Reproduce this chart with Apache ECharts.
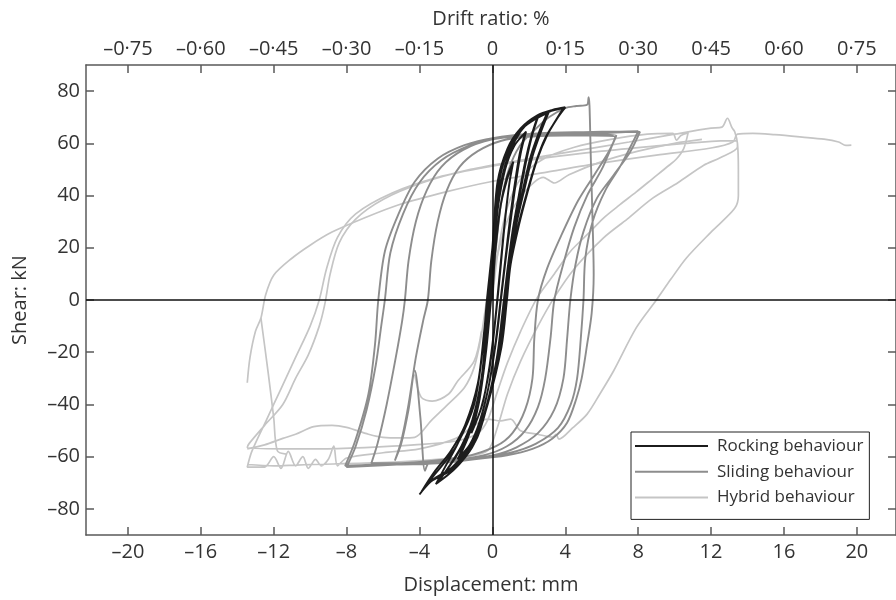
<!DOCTYPE html>
<html>
<head>
<meta charset="utf-8">
<script src="https://cdn.jsdelivr.net/npm/echarts@6/dist/echarts.min.js"></script>
<style>html,body{margin:0;padding:0;background:#fff}#c{width:896px;height:600px}</style>
</head>
<body>
<div id="c"></div>
<script>
// ---- ticks ----
const xTicks = [-20,-16,-12,-8,-4,0,4,8,12,16,20];
const xTickLabels = ['–20','–16','–12','–8','–4','0','4','8','12','16','20'];
const driftLabels = ['–0·75','–0·60','–0·45','–0·30','–0·15','0','0·15','0·30','0·45','0·60','0·75'];
const yTicks = [-80,-60,-40,-20,0,20,40,60,80];
const yTickLabels = ['–80','–60','–40','–20','0','20','40','60','80'];
const seriesNames = ['Rocking behaviour','Sliding behaviour','Hybrid behaviour'];

// ---- data: [displacement mm, shear kN] ----
const rockingPath = [
[0,0],[0.15,18],[0.45,36],[0.8,46],[1.1,52],
[0.9,43],[0.65,28],[0.4,10],[0.15,-8],[-0.15,-25],[-0.55,-40],[-1.1,-50],
[-0.7,-38],[-0.35,-20],[-0.1,-2],[0.15,18],[0.45,36],[0.8,47],[1.15,53],
[0.92,44],[0.66,28],[0.42,10],[0.16,-8],[-0.15,-26],[-0.6,-41],[-1.15,-51],
[-0.8,-40],[-0.45,-24],[-0.2,-5],[0.05,15],[0.3,35],[0.7,50],[1.2,59],[1.8,64],
[1.5,56],[1.2,43],[0.95,30],[0.7,15],[0.45,0],[0.2,-15],[-0.2,-33],[-0.7,-47],[-1.2,-55],[-1.8,-60],
[-1.3,-52],[-0.8,-40],[-0.45,-24],[-0.2,-5],[0.05,15],[0.3,35],[0.7,50],[1.2,59],[1.85,64.5],
[1.55,56],[1.25,43],[1.0,30],[0.72,15],[0.47,0],[0.22,-15],[-0.2,-33],[-0.72,-47],[-1.25,-55.5],[-1.9,-61],
[-1.3,-51],[-0.8,-40],[-0.45,-22],[-0.2,-3],[0.05,20],[0.35,40],[0.8,54],[1.4,63],[2.0,68],[2.5,70.5],
[2.15,63],[1.8,53],[1.45,40],[1.1,26],[0.8,10],[0.55,-5],[0.25,-22],[-0.3,-40],[-0.9,-52],[-1.7,-61],[-2.6,-66],
[-2.0,-60],[-1.3,-51],[-0.8,-40],[-0.45,-22],[-0.2,-3],[0.05,20],[0.35,40],[0.8,54],[1.45,63.5],[2.05,68.5],[2.55,71],
[2.2,63.5],[1.85,53],[1.5,40],[1.15,26],[0.85,10],[0.58,-5],[0.28,-22],[-0.28,-40],[-0.9,-52.5],[-1.75,-61.5],[-2.65,-66.5],
[-2.4,-64],[-1.7,-56],[-1.1,-46],[-0.6,-30],[-0.35,-12],[-0.15,5],[0.1,28],[0.45,48],[1.0,59],[1.7,66],[2.4,69.5],[3.0,71.5],
[2.6,65],[2.1,55],[1.7,43],[1.3,30],[0.95,15],[0.7,0],[0.4,-18],[-0.2,-38],[-0.8,-52],[-1.6,-61],[-2.3,-66],[-3.0,-70],
[-2.4,-64],[-1.7,-56],[-1.1,-46],[-0.6,-30],[-0.35,-12],[-0.15,5],[0.1,28],[0.45,48],[1.0,59.5],[1.7,66.5],[2.45,70],[3.1,72],
[2.7,65],[2.2,55],[1.78,43],[1.35,30],[1.0,15],[0.72,0],[0.42,-18],[-0.2,-38],[-0.82,-52.5],[-1.65,-61.5],[-2.35,-66.5],[-3.1,-70.5],
[-2.6,-64],[-1.9,-55],[-1.0,-40],[-0.55,-20],[-0.3,0],[0,20],[0.28,45],[0.83,58],[1.55,65.7],[2.47,70.7],[3.3,72.8],[4.0,73.8],
[3.6,70],[3.0,63],[2.47,54],[1.92,41],[1.47,29],[1.0,13.5],[0.8,0],[0.5,-18],[-0.26,-40],[-1.0,-55],[-1.7,-62],[-2.28,-65.4],[-3.37,-69.5],[-4,-74.5],
[-3.3,-68],[-2.6,-62],[-1.9,-55],[-1.0,-40],[-0.55,-20],[-0.3,0],[0,20],[0.3,44],[0.85,57.5],[1.6,65.5],[2.5,70.5],[3.3,72.5],[3.9,73.5],
[3.5,69],[2.9,62],[2.4,53],[1.85,40],[1.4,28],[0.95,13],[0.75,0],[0.45,-18],[-0.3,-40],[-1.0,-54],[-2.2,-64],[-3.3,-69],[-3.9,-73.5],
[-3.2,-66],[-2.3,-58],[-1.5,-48],[-0.8,-32],[-0.45,-12],[-0.2,5]
];

const slidingPath = [
[0,0],[0.2,20],[0.5,38],[0.9,50],[1.5,59],[2.3,65],[3.1,70],[4.0,73.5],[4.6,74.3],[5.2,74.8],[5.28,77.7],[5.33,74.5],[5.4,55],[5.5,30],[5.56,9.7],
[5.45,-5],[5.2,-17],[4.9,-30],[4.6,-38],[4.1,-47],[3.3,-53],[2.2,-57],[0.8,-59.5],[-1,-61],[-3,-62],[-3.5,-62.5],[-3.7,-65.4],[-3.95,-45],[-4.26,-27],[-4.6,-42],[-5.0,-55],[-5.35,-61.5],
[-5.0,-54],[-4.6,-40],[-4.2,-22],[-3.8,-8],[-3.54,0],[-3.35,15],[-3.0,30],[-2.5,42],[-1.8,51],[-0.8,57],[0.5,61],[2,62.5],[4,63],[5.5,63],[6.74,62.4],
[6.5,58],[6.0,50],[5.2,40],[4.5,28],[3.9,14],[3.4,0],[3.2,-14],[2.9,-30],[2.5,-41],[1.8,-50],[0.8,-56],[-0.5,-59.5],[-2.5,-61.5],[-4.5,-62.5],[-6.64,-62.5],
[-6.3,-55],[-5.8,-40],[-5.3,-22],[-4.95,-8],[-4.8,0],[-4.6,15],[-4.2,30],[-3.6,42],[-2.8,51],[-1.6,57.5],[0,61.5],[2,63],[4,63.8],[5.5,63.5],[6.8,63],
[6.4,57],[5.6,48],[4.7,38],[3.8,25],[3.0,12],[2.5,0],[2.3,-15],[2.2,-30],[1.8,-42],[1.1,-51],[0.2,-56],[-1.5,-60],[-4,-62],[-6.5,-63],[-8.08,-63.5],
[-7.53,-54],[-6.8,-36],[-6.44,-17],[-6.26,0],[-5.9,18.6],[-5.17,32.6],[-4.26,45.3],[-2.99,54.2],[-1.53,59.3],[0.1,62.1],[2,63.3],[4,63.8],[6,64],[7.3,64.3],[8.1,64.4],
[7.56,56.7],[6.65,47.8],[5.74,39],[5.0,26.2],[4.56,13.5],[4.28,0],[4.1,-15],[3.9,-30],[3.4,-42],[2.5,-51],[1.3,-56.5],[0,-59.5],[-2,-61.5],[-4,-62.5],[-6,-63.3],[-8.0,-64],
[-7.5,-56],[-6.9,-42],[-6.4,-25],[-6.1,-10],[-5.9,0],[-5.6,18],[-4.9,33],[-4.0,45],[-2.8,53.5],[-1.3,59],[0.5,62.5],[2.5,63.8],[5,64.3],[7,64.5],[8.0,64.6],
[7.6,59],[7.0,51],[6.2,42],[5.5,30],[5.1,16],[5.0,0],[4.85,-15],[4.65,-30],[4.3,-40],[3.6,-49],[2.4,-55],[1.0,-58.5],[-1,-61],[-3,-62.5],[-5,-63]
];

const hybridMain = [
[0,0],[0.3,18],[0.8,35],[1.6,47],[2.8,54],[4.5,58.5],[6.5,61.5],[8.5,63.5],[9.9,63.8],[10.1,61.2],[10.35,63],[10.74,64],
[10.5,58],[10.1,54],[9.7,51.6],[8.8,46.5],[7.9,41.4],[7.0,36.5],[6.1,31.4],[5.2,25],[4.28,18.6],[3.4,10],[2.47,1],[1.55,-12],[0.83,-24],[0.28,-35],[-0.26,-46],[-0.8,-51],[-2,-54],[-4.3,-55.5],[-7,-56.5],[-9.5,-57],[-11.5,-57],[-13.45,-56.5],
[-13.35,-55],[-12.5,-48],[-11.5,-40],[-10.8,-30],[-10.1,-21],[-9.5,-10],[-9.2,-1.8],[-8.9,10],[-8.4,22],[-7.5,31],[-6,38.5],[-3.8,45],[-1.2,50],[1.5,53.5],[4.5,57],[7.5,60.5],[10,63.5],[12,65.8],[12.6,66.2],[12.9,69.6],[13.15,66],[13.3,64.4],[13.45,60],[13.5,50],[13.5,40],[13.3,35.1],
[12,26],[10.65,16.1],[9.8,8],[9.0,0],[7.9,-10.6],[6.65,-27.2],[5.9,-36],[5.2,-43.7],[4.4,-49],[3.65,-53.3],[3.5,-51.5],[3.3,-52.5],[2.47,-51.4],[1.55,-50.1],[1.0,-45.6],[0.45,-46.3],[-0.26,-45.6],[-1.0,-48],[-2,-53],[-4,-57],[-6,-58.5],[-8,-60.5],
[-8.5,-63.5],[-8.7,-56],[-9,-61],[-9.4,-63.5],[-9.7,-61],[-10.1,-64.5],[-10.4,-60],[-10.8,-63.5],[-11.2,-58],[-11.6,-64.5],[-12,-60],[-12.5,-64],[-13.45,-64],
[-13.2,-58],[-12.4,-46],[-11.6,-34],[-10.8,-22],[-10,-10],[-9.5,0],[-9.1,12],[-8.5,24],[-7.5,33],[-5.5,41],[-3,47],[-0.26,51],[3,54.5],[6,57],[9,59],[11.5,60.5],[13.4,61],
[13.45,58.6],[12.5,54.5],[11.6,51.6],[10.2,45],[8.8,39],[7.4,31],[6.1,23.8],[4.5,12],[3.4,1],[2.5,-10],[1.55,-23.4],[0.83,-36],[0.28,-48.7],[-0.26,-57.7],[-1.5,-60],[-4,-61.5],[-7,-62.5],[-10,-63],[-12,-63.5],[-13.45,-63]
];
const hybridFinal = [
[-13.45,-31.7],[-13.3,-22],[-13.0,-12],[-12.7,-6.9],[-12.44,2],[-12.0,9.5],[-11,16],[-10,21],[-8.8,26],[-7,31.5],[-5.17,36.4],[-2.5,41.5],[-0.1,45.3],[3,49],[6,52.5],[9,55.5],[12,58.2],[13.2,60.5],[13.45,63.5],
[14.3,63.8],[15.5,63.3],[17.0,62.4],[18.2,61.6],[19.0,60.5],[19.4,59.2],[19.7,59.3]
];
const hybridSpike = [[-12.7,-6.9],[-12.3,-28],[-12.0,-45],[-11.8,-57.7],[-11.3,-59]];
const hybridLower = [
[-13.45,-57],[-12.5,-55.5],[-11.5,-53],[-10.8,-51.4],[-9.8,-48.5],[-8.8,-48],[-8,-48.8],[-6.8,-51.4],[-6,-52.6],[-5,-52.8],[-4.26,-52.6],[-3.37,-46.3],[-2.44,-40],[-1.53,-33.5],[-1.0,-25.8],[-0.64,-15],[-0.3,0],[0.2,15],[0.8,30],[1.6,40],[2.8,47],[3.4,44.8],[4.2,48],[6,53],[8,57],[10,60],[11.5,61.5]
];
const hybridBump = [[-4.26,-28.5],[-3.9,-37.3],[-3.3,-38.7],[-2.4,-36],[-1.9,-31],[-1.0,-23.4],[-0.6,-12]];
const hybridSegments = [hybridMain, hybridFinal, hybridSpike, hybridLower, hybridBump];

// ---- chart ----
const FONT = '"Open Sans", "Noto Sans", sans-serif';
const TXT = '#333';
const AX = '#5a5a5a';
const colors = {rock:'#1c1c1c', slide:'#8d8d8d', hyb:'#c5c5c5'};

function lineSeries(name, data, color, width, z, extra) {
  return Object.assign({
    type:'line', name:name, data:data, symbol:'none', showSymbol:false,
    smooth:0.3, silent:true, animation:false, z:z,
    lineStyle:{color:color, width:width}, itemStyle:{color:color}
  }, extra || {});
}

const series = [];
hybridSegments.forEach((seg, i) => {
  const extra = i === 0 ? {
    markLine:{silent:true, symbol:['none','none'], animation:false, label:{show:false},
      lineStyle:{color:'#111', width:1.5, type:'solid'},
      data:[{xAxis:0},{yAxis:0}]}
  } : {};
  series.push(lineSeries(seriesNames[2], seg, colors.hyb, 1.7, 2, extra));
});
series.push(lineSeries(seriesNames[1], slidingPath, colors.slide, 1.9, 3));
series.push(lineSeries(seriesNames[0], rockingPath, colors.rock, 1.9, 4));

const axisCommon = {
  min:-22.3, max:22.15,
  axisLine:{show:true, onZero:false, lineStyle:{color:AX, width:1.5}},
  axisTick:{show:true, inside:true, length:8, customValues:xTicks, lineStyle:{color:AX, width:1.5}},
  splitLine:{show:false}
};
const yCommon = {
  type:'value', min:-90, max:90,
  axisLine:{show:true, onZero:false, lineStyle:{color:AX, width:1.5}},
  axisTick:{show:true, inside:true, length:8, customValues:yTicks, lineStyle:{color:AX, width:1.5}},
  splitLine:{show:false}
};

const option = {
  backgroundColor:'#fff',
  animation:false,
  grid:{left:86, right:-5, top:65, bottom:65, containLabel:false},
  legend:{
    orient:'vertical', left:631, top:432,
    icon:'rect', itemWidth:73, itemHeight:2, itemGap:7.7,
    padding:[5,6,13,4], borderColor:'#222', borderWidth:1,
    textStyle:{fontSize:17, lineHeight:18, color:TXT, fontFamily:FONT, padding:[0,0,0,4]},
    data:seriesNames, selectedMode:false
  },
  xAxis:[
    Object.assign({type:'value', position:'bottom',
      name:'Displacement: mm', nameLocation:'middle', nameGap:40,
      nameTextStyle:{fontSize:20, color:TXT, fontFamily:FONT},
      axisLabel:{customValues:xTicks, margin:7, fontSize:20, color:TXT, fontFamily:FONT,
        formatter:v => xTickLabels[xTicks.indexOf(v)]}
    }, axisCommon),
    Object.assign({type:'value', position:'top',
      name:'Drift ratio: %', nameLocation:'middle', nameGap:36,
      nameTextStyle:{fontSize:20, color:TXT, fontFamily:FONT},
      axisLabel:{customValues:xTicks, margin:6, fontSize:20, color:TXT, fontFamily:FONT,
        formatter:v => driftLabels[xTicks.indexOf(v)]}
    }, axisCommon)
  ],
  yAxis:[
    Object.assign({position:'left',
      name:'Shear: kN', nameLocation:'middle', nameGap:56,
      nameTextStyle:{fontSize:20, color:TXT, fontFamily:FONT},
      axisLabel:{customValues:yTicks, margin:6, fontSize:20, color:TXT, fontFamily:FONT,
        formatter:v => yTickLabels[yTicks.indexOf(v)]}
    }, yCommon),
    Object.assign({position:'right', axisLabel:{show:false}}, yCommon)
  ],
  series:series
};

const chart = echarts.init(document.getElementById('c'), null, {renderer:'canvas'});
chart.setOption(option);
</script>
</body>
</html>
